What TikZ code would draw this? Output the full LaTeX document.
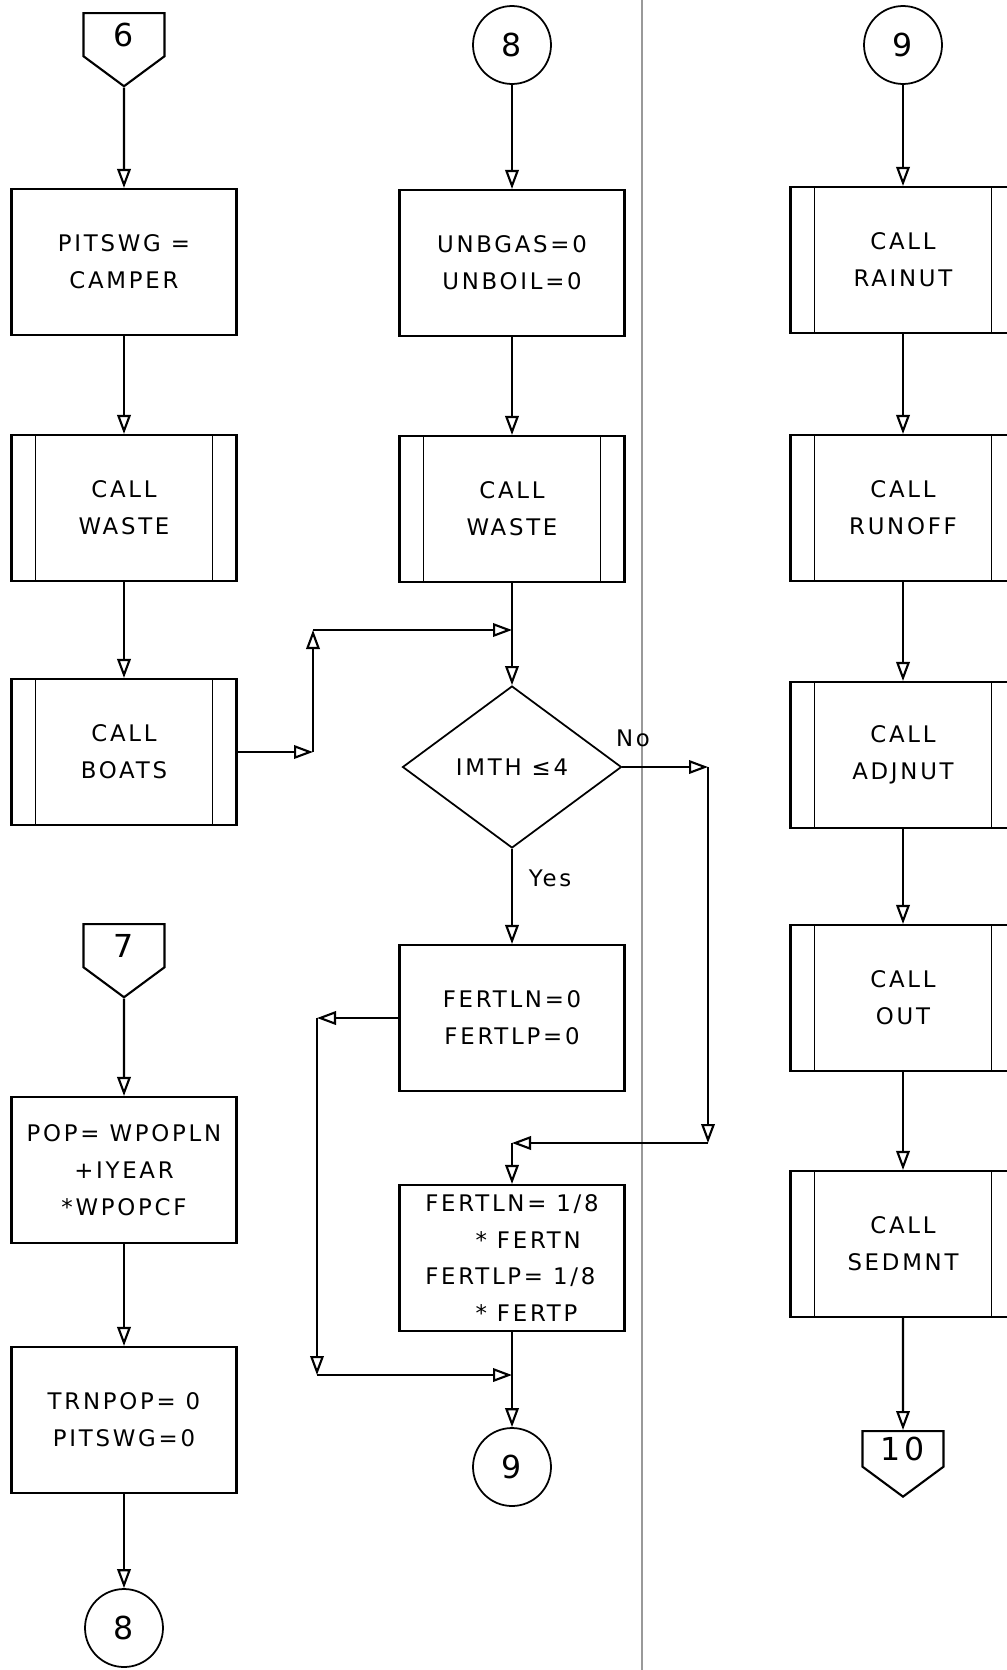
\documentclass[tikz,border=0pt]{standalone}
\usepackage{fontspec}
\setmainfont{DejaVu Sans}[LetterSpace=12]
\usetikzlibrary{arrows.meta, shapes.geometric, shapes.symbols}

\begin{document}
\begin{tikzpicture}
  [
    x=0.02cm, y=-0.02cm,
    every node/.style={font=\fontsize{13}{21}\selectfont},
    stmt/.style={draw, line width=1.2pt, minimum width=4.5cm, minimum height=2.92cm, align=center},
    callbox/.style={stmt, path picture={
        \draw[line width=1pt] ([xshift=0.48cm]path picture bounding box.north west) -- ([xshift=0.48cm]path picture bounding box.south west);
        \draw[line width=1pt] ([xshift=-0.48cm]path picture bounding box.north east) -- ([xshift=-0.48cm]path picture bounding box.south east);}},
    decision/.style={draw, diamond, line width=1pt, minimum width=4.38cm, minimum height=3.24cm, inner sep=0pt},
    conn/.style={draw, circle, line width=1pt, minimum size=1.56cm, font=\fontsize{18}{18}\selectfont},
    offpage/.style={draw, signal, signal to=south, signal pointer angle=107, line width=1.2pt,
      minimum width=1.62cm, minimum height=1.1cm, anchor=north, font=\fontsize{18}{18}\selectfont},
    flow/.style={-{Triangle[open, length=0.38cm, width=0.27cm]}, line width=1.2pt}
  ]
  \clip (0,0) rectangle (1007,1670);
  % page edge
  \draw[gray!80, line width=1.1pt] (642,0) -- (642,1670);

  % column 1
  \node[offpage] (p6) at (124,12) {6};
  \node[stmt] (pitswg) at (124,262) {PITSWG =\\CAMPER};
  \node[callbox] (wasteA) at (124,508) {CALL\\WASTE};
  \node[callbox] (boats) at (124,752) {CALL\\BOATS};
  \node[offpage] (p7) at (124,923) {7};
  \node[stmt] (pop) at (124,1170) {POP= WPOPLN\\+IYEAR\\*WPOPCF};
  \node[stmt] (trnpop) at (124,1420) {TRNPOP= 0\\PITSWG=0};
  \node[conn] (c8b) at (124,1628) {8};

  % column 2
  \node[conn] (c8) at (512,45) {8};
  \node[stmt] (unb) at (512,263) {UNBGAS=0\\UNBOIL=0};
  \node[callbox] (wasteB) at (512,509) {CALL\\WASTE};
  \node[decision] (imth) at (512,767) {IMTH ≤4};
  \node[stmt] (fera) at (512,1018) {FERTLN=0\\FERTLP=0};
  \node[stmt, align=left] (ferb) at (512,1258)
    {FERTLN= 1/8\\\hspace*{2.2em}* FERTN\\FERTLP= 1/8\\\hspace*{2.2em}* FERTP};
  \node[conn] (c9b) at (512,1467) {9};

  % column 3
  \node[conn] (c9) at (903,45) {9};
  \node[callbox] (rainut) at (903,260) {CALL\\RAINUT};
  \node[callbox] (runoff) at (903,508) {CALL\\RUNOFF};
  \node[callbox] (adjnut) at (903,755) {CALL\\ADJNUT};
  \node[callbox] (out) at (903,998) {CALL\\OUT};
  \node[callbox] (sedmnt) at (903,1244) {CALL\\SEDMNT};
  \node[offpage] (p10) at (903,1430) {10};

  % labels
  \node (no) at (633,738) {No};
  \node (yes) at (550,878) {Yes};

  % bends
  \coordinate (j1) at (313,752);
  \coordinate (j2) at (313,630);
  \coordinate (j3) at (512,630);
  \coordinate (j4) at (708,767);
  \coordinate (j5) at (708,1143);
  \coordinate (j6) at (512,1143);
  \coordinate (j7) at (317,1018);
  \coordinate (j8) at (317,1375);
  \coordinate (j9) at (512,1375);

  % straight runs
  \draw[flow] (p6) -- (pitswg);
  \draw[flow] (pitswg) -- (wasteA);
  \draw[flow] (wasteA) -- (boats);
  \draw[flow] (p7) -- (pop);
  \draw[flow] (pop) -- (trnpop);
  \draw[flow] (trnpop) -- (c8b);
  \draw[flow] (c8) -- (unb);
  \draw[flow] (unb) -- (wasteB);
  \draw[flow] (wasteB) -- (imth);
  \draw[flow] (imth) -- (fera);
  \draw[flow] (ferb) -- (c9b);
  \draw[flow] (c9) -- (rainut);
  \draw[flow] (rainut) -- (runoff);
  \draw[flow] (runoff) -- (adjnut);
  \draw[flow] (adjnut) -- (out);
  \draw[flow] (out) -- (sedmnt);
  \draw[flow] (sedmnt) -- (p10);

  % boats into decision
  \draw[flow] (boats.east) -- (j1);
  \draw[flow] (j1) -- (j2);
  \draw[flow] (j2) -- (j3);
  % no branch
  \draw[flow] (imth.east) -- (j4);
  \draw[flow] (j4) -- (j5);
  \draw[flow] (j5) -- (j6);
  \draw[flow] (j6) -- (ferb);
  % yes branch bypass
  \draw[flow] (fera.west) -- (j7);
  \draw[flow] (j7) -- (j8);
  \draw[flow] (j8) -- (j9);
\end{tikzpicture}
\end{document}
